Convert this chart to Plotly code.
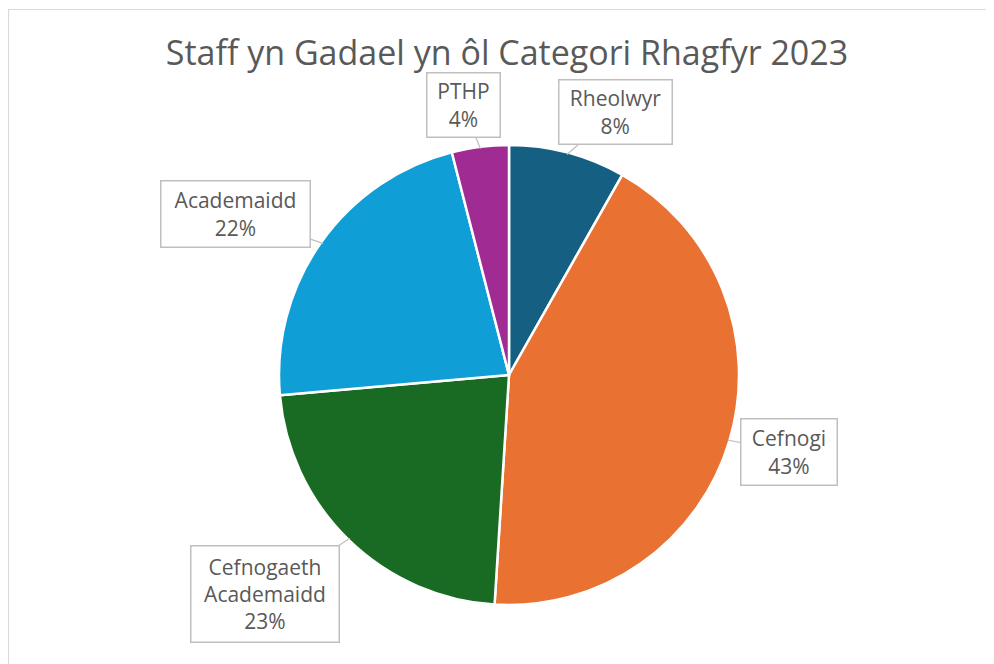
import math
import plotly.graph_objects as go

labels = ["Rheolwyr", "Cefnogi", "Cefnogaeth<br>Academaidd", "Academaidd", "PTHP"]
values = [8.2, 42.8, 22.6, 22.4, 4.0]
colors = ["#156082", "#E97132", "#196B24", "#0F9ED5", "#A02B93"]

W, H = 994, 664
OFF = 8  # page body margin
cx, cy, r = 509, 375, 228

# callout box centres and sizes, in page pixels
box_pos = [(615, 112), (789, 452), (265, 594), (235, 214), (463, 105)]
box_size = [(114, 65), (97, 67), (149, 97), (150, 67), (74, 65)]


def px(x):
    return (x - OFF) / W


def py(y):
    return 1 - (y - OFF) / H


fig = go.Figure(go.Pie(
    labels=labels,
    values=values,
    sort=False,
    direction="clockwise",
    rotation=0,
    marker=dict(colors=colors, line=dict(color="white", width=2.5)),
    textinfo="none",
    hoverinfo="label+percent",
    showlegend=False,
    domain=dict(x=[px(cx - r - 2), px(cx + r + 2)],
                y=[py(cy + r + 2), py(cy - r - 2)]),
))

# callouts pointing at the middle of each slice
total = sum(values)
start = 0
for lab, v, (bx, by), (bw, bh) in zip(labels, values, box_pos, box_size):
    mid = (start + v / 2) / total * 2 * math.pi
    start += v
    hx = cx + r * math.sin(mid)
    hy = cy - r * math.cos(mid)
    fig.add_annotation(
        x=px(hx), y=py(hy), xref="paper", yref="paper",
        text=f"{lab}<br>{round(v / total * 100)}%",
        showarrow=True, arrowhead=0, arrowwidth=1.2, arrowcolor="#BFBFBF",
        ax=bx - hx, ay=by - hy,
        width=bw - 4, height=bh - 4, borderpad=1,
        bordercolor="#BFBFBF", borderwidth=1.5, bgcolor="white",
        font=dict(family="Open Sans", size=21, color="#595959"),
    )

# chart area border
fig.add_shape(type="rect", xref="paper", yref="paper",
              x0=px(8.5), x1=1.05, y0=-0.05, y1=py(9.5),
              line=dict(color="#D9D9D9", width=1.2), fillcolor="rgba(0,0,0,0)")

fig.update_layout(
    width=W, height=H,
    margin=dict(l=0, r=0, t=0, b=0),
    paper_bgcolor="white",
    title=dict(text="Staff yn Gadael yn ôl Categori Rhagfyr 2023",
               x=px(507), xanchor="center", y=py(53), yanchor="middle",
               font=dict(family="Open Sans", size=34, color="#595959")),
)

fig.write_html("out.html")
